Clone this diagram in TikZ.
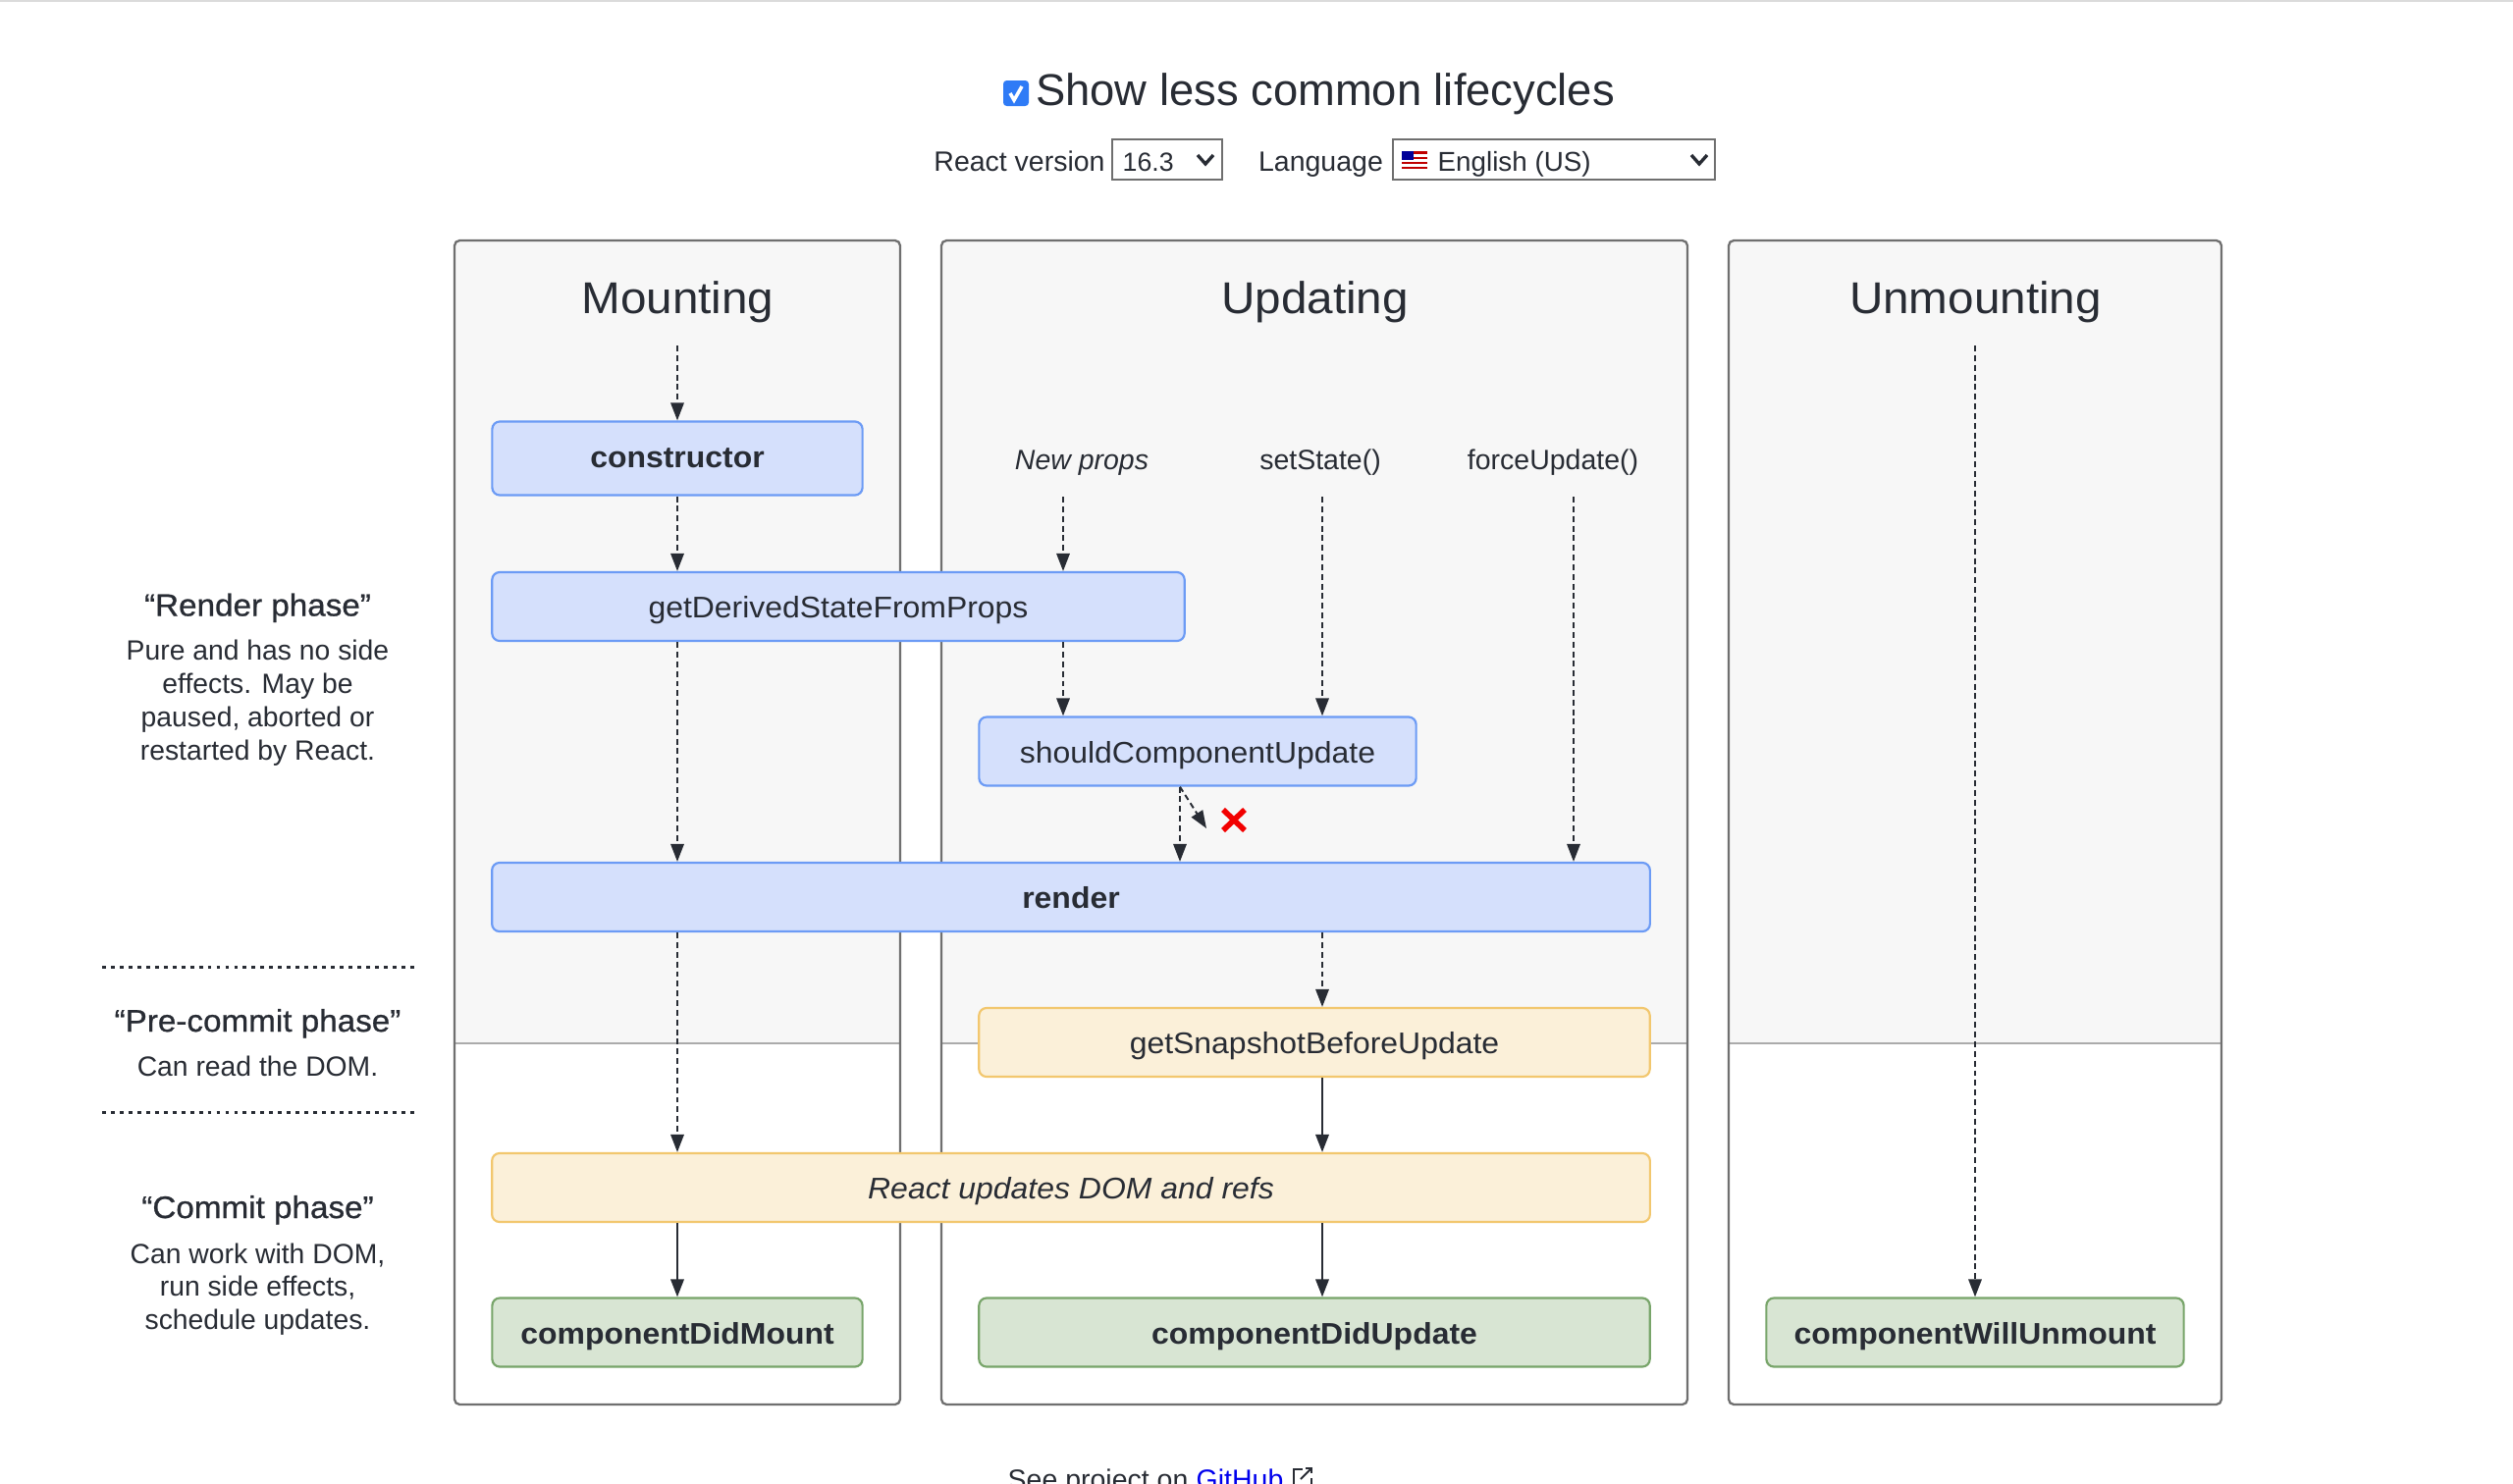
\documentclass[tikz,border=0pt]{standalone}
\usepackage{fontspec}
\setmainfont{Liberation Sans}
\newfontfamily\widefont[FakeStretch=1.05]{Liberation Sans}
\newfontfamily\mediumfont[FakeStretch=1.05,FakeBold=0.8]{Liberation Sans}
\usetikzlibrary{arrows.meta}
\usetikzlibrary{calc}
\definecolor{inkdark}{HTML}{282C34}
\definecolor{panelline}{HTML}{6F6F6F}
\definecolor{panelfill}{HTML}{F7F7F7}
\definecolor{phaseline}{HTML}{ABABAB}
\definecolor{blueback}{HTML}{D5E0FC}
\definecolor{blueedge}{HTML}{6C9BF5}
\definecolor{yellowback}{HTML}{FBF0D9}
\definecolor{yellowedge}{HTML}{F2C76E}
\definecolor{greenback}{HTML}{D8E5D3}
\definecolor{greenedge}{HTML}{78A56A}
\definecolor{checkblue}{HTML}{2F7BF6}
\newcommand{\bigsize}{\fontsize{12.9}{15}\selectfont}
\newcommand{\midsize}{\fontsize{8.1}{10}\selectfont}
\newcommand{\sidesize}{\fontsize{8.05}{10}\selectfont}
\newcommand{\boxsize}{\fontsize{8.65}{10}\selectfont\widefont}
\tikzset{
    lifebox/.style={draw, line width=0.62pt, rounded corners=2.2pt, inner sep=0pt, text height=6.8pt, text depth=0pt, font=\boxsize, text=inkdark},
    bluebox/.style={lifebox, draw=blueedge, fill=blueback},
    yellowbox/.style={lifebox, draw=yellowedge, fill=yellowback},
    greenbox/.style={lifebox, draw=greenedge, fill=greenback, font=\boxsize\bfseries},
    panel/.style={draw=panelline, line width=0.65pt, rounded corners=1.5pt},
    label/.style={anchor=base, inner sep=0pt, font=\midsize, text=inkdark},
    sidetext/.style={label, font=\sidesize},
    title/.style={anchor=base, inner sep=0pt, font=\bigsize\widefont, text=inkdark},
    phasehead/.style={label, font=\fontsize{9}{10}\selectfont\mediumfont},
    dashflow/.style={draw=inkdark, line width=0.55pt, dash pattern=on 1.7pt off 1.1pt, -{Triangle[length=5.1pt,width=3.8pt,fill=inkdark]}},
    solidflow/.style={draw=inkdark, line width=0.6pt, -{Triangle[length=5.1pt,width=3.8pt,fill=inkdark]}},
    dotrule/.style={draw=inkdark, line width=1.1pt, dash pattern=on 1.1pt off 1.45pt},
    selectbox/.style={draw=panelline, line width=0.7pt, fill=white},
    chevron/.style={draw=inkdark, line width=0.95pt}
}
\begin{document}
\begin{tikzpicture}[x=0.01cm,y=-0.01cm]
    \clip (0,0) rectangle (2560,1512);
    \fill[white] (0,0) rectangle (2560,1512);
    \fill[black!14] (0,0) rectangle (2560,2);

    % Header
    \fill[checkblue, rounded corners=1pt] (1022,82) rectangle (1048,108);
    \draw[white, line width=1pt] (1029,95) -- (1033,102) -- (1041,88);
    \node[title, font=\bigsize] (showless) at (1350,107) {Show less common lifecycles};
    \node[label] (versionlabel) at (1038.5,174) {React version};
    \draw[selectbox] (1133,142) rectangle (1245,183);
    \node[label, anchor=base west, font=\fontsize{7.6}{10}\selectfont] (versionvalue) at (1143,174) {16.3};
    \draw[chevron] (1220,158) -- (1228,167) -- (1236,158);
    \node[label] (languagelabel) at (1345.5,174) {Language};
    \draw[selectbox] (1419,142) rectangle (1747,183);
    \node[label, anchor=base west, font=\fontsize{7.9}{10}\selectfont] (languagevalue) at (1464,174) {English (US)};
    \draw[chevron] (1723,158) -- (1731,167) -- (1739,158);

    % Flag
    \fill[red!75!black] (1428,154) rectangle (1454,172);
    \fill[white] (1428,157) rectangle (1454,159.5);
    \fill[white] (1428,162) rectangle (1454,164.5);
    \fill[white] (1428,167) rectangle (1454,169.5);
    \fill[blue!60!black] (1428,154) rectangle (1440,163);

    % Panels
    \fill[panelfill] (463,1063) [rounded corners=1.5pt] -- (463,245) -- (917,245) [sharp corners] -- (917,1063) -- cycle;
    \fill[panelfill] (959,1063) [rounded corners=1.5pt] -- (959,245) -- (1719,245) [sharp corners] -- (1719,1063) -- cycle;
    \fill[panelfill] (1761,1063) [rounded corners=1.5pt] -- (1761,245) -- (2263,245) [sharp corners] -- (2263,1063) -- cycle;
    \draw[phaseline, line width=0.55pt] (463,1063) -- (917,1063);
    \draw[phaseline, line width=0.55pt] (959,1063) -- (1719,1063);
    \draw[phaseline, line width=0.55pt] (1761,1063) -- (2263,1063);
    \draw[panel] (463,245) rectangle (917,1431);
    \draw[panel] (959,245) rectangle (1719,1431);
    \draw[panel] (1761,245) rectangle (2263,1431);
    \node[title] (mounting) at (690.5,319) {Mounting};
    \node[title] (updating) at (1339.5,319) {Updating};
    \node[title] (unmounting) at (2012.5,319) {Unmounting};

    % Triggers
    \node[label, font=\midsize\itshape] (newprops) at (1102,478) {New props};
    \node[label] (setstate) at (1345,478) {setState()};
    \node[label] (forceupdate) at (1582,478) {forceUpdate()};

    % Lifecycle boxes
    \node[bluebox, minimum width=3.77cm, minimum height=0.75cm, font=\boxsize\bfseries, text height=5.4pt] (constructor) at (690,467) {constructor};
    \node[bluebox, minimum width=7.05cm, minimum height=0.7cm] (derived) at (854,618) {getDerivedStateFromProps};
    \node[bluebox, minimum width=4.45cm, minimum height=0.7cm] (should) at (1220,765.5) {shouldComponentUpdate};
    \node[bluebox, minimum width=11.79cm, minimum height=0.7cm, font=\boxsize\bfseries] (render) at (1091,914) {render};
    \node[yellowbox, minimum width=6.83cm, minimum height=0.7cm] (snapshot) at (1339,1062) {getSnapshotBeforeUpdate};
    \node[yellowbox, minimum width=11.79cm, minimum height=0.7cm, font=\boxsize\itshape] (domrefs) at (1091,1210) {React updates DOM and refs};
    \node[greenbox, minimum width=3.77cm, minimum height=0.7cm] (didmount) at (690,1357.5) {componentDidMount};
    \node[greenbox, minimum width=6.83cm, minimum height=0.7cm] (didupdate) at (1339,1357.5) {componentDidUpdate};
    \node[greenbox, minimum width=4.25cm, minimum height=0.7cm] (willunmount) at (2012,1357.5) {componentWillUnmount};

    % Free ends and columns of the connectors
    \coordinate (mountstart) at (690,352);
    \coordinate (unmountstart) at (2012,352);
    \coordinate (colprops) at (1083,506);
    \coordinate (colstate) at (1347,506);
    \coordinate (colforce) at (1603,506);
    \coordinate (colshould) at (1202,506);
    \coordinate (skipend) at (1229,844);

    % Connectors
    \draw[dashflow] (mountstart) -- (constructor.north);
    \draw[dashflow] (constructor.south) -- (constructor.south |- derived.north);
    \draw[dashflow] (constructor.south |- derived.south) -- (constructor.south |- render.north);
    \draw[dashflow] (constructor.south |- render.south) -- (constructor.south |- domrefs.north);
    \draw[solidflow] (didmount.north |- domrefs.south) -- (didmount.north);
    \draw[dashflow] (colprops) -- (colprops |- derived.north);
    \draw[dashflow] (colprops |- derived.south) -- (colprops |- should.north);
    \draw[dashflow] (colstate) -- (colstate |- should.north);
    \draw[dashflow] (colforce) -- (colforce |- render.north);
    \draw[dashflow] (colshould |- should.south) -- (colshould |- render.north);
    \draw[dashflow] (colshould |- should.south) -- (skipend);
    \draw[dashflow] (colstate |- render.south) -- (colstate |- snapshot.north);
    \draw[solidflow] (colstate |- snapshot.south) -- (colstate |- domrefs.north);
    \draw[solidflow] (colstate |- domrefs.south) -- (colstate |- didupdate.north);
    \draw[dashflow] (unmountstart) -- (willunmount.north);

    % Cross
    \draw[red!95!black, line width=1.6pt] (1246,825) -- (1268,846);
    \draw[red!95!black, line width=1.6pt] (1268,825) -- (1246,846);

    % Phases
    \node[phasehead] (renderhead) at (262.5,627.5) {“Render phase”};
    \node[sidetext] (renderline) at (262.5,672) {Pure and has no side};
    \node[sidetext] (renderlinea) at (262.5,706) {effects. May be};
    \node[sidetext] (renderlineb) at (262.5,740) {paused, aborted or};
    \node[sidetext] (renderlinec) at (262.5,774) {restarted by React.};
    \draw[dotrule] (104,985.5) -- (424,985.5);
    \node[phasehead] (prehead) at (262.5,1051) {“Pre-commit phase”};
    \node[sidetext] (preline) at (262.5,1096) {Can read the DOM.};
    \draw[dotrule] (104,1133.5) -- (424,1133.5);
    \node[phasehead] (commithead) at (262.5,1241) {“Commit phase”};
    \node[sidetext] (commitline) at (262.5,1287) {Can work with DOM,};
    \node[sidetext] (commitlinea) at (262.5,1320) {run side effects,};
    \node[sidetext] (commitlineb) at (262.5,1354) {schedule updates.};

    % Footer
    \node[label, anchor=base west] (seeproject) at (1026,1517) {See project on};
    \node[label, anchor=base west, text=blue!93!black] (github) at (1218,1517) {GitHub};
    \draw[inkdark, line width=0.55pt] (1327,1497) -- (1318,1497) -- (1318,1512);
    \draw[inkdark, line width=0.55pt] (1336,1512) -- (1336,1506);
    \draw[inkdark, line width=0.55pt] (1325,1507) -- (1336,1496);
    \draw[inkdark, line width=0.55pt] (1330,1496) -- (1336,1496) -- (1336,1501);
\end{tikzpicture}
\end{document}
